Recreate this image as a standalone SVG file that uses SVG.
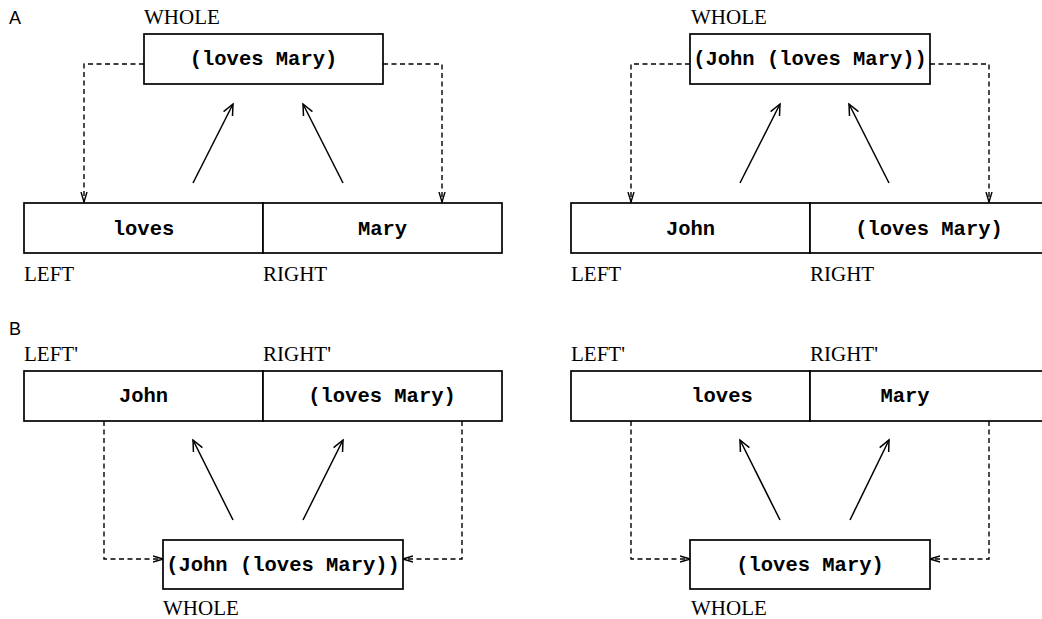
<svg xmlns="http://www.w3.org/2000/svg" width="1042" height="619" viewBox="0 0 1042 619">
<style>
.box{fill:#fff;stroke:#000;stroke-width:1.7}
.code{font-family:"Liberation Mono","Courier New",monospace;font-weight:bold;font-size:20.5px;text-anchor:middle;fill:#000}
.lbl{font-family:"Liberation Serif","Times New Roman",serif;font-size:21px;fill:#000}
.panel{font-family:"Liberation Sans",Arial,sans-serif;font-size:18px;fill:#000}
.dash{fill:none;stroke:#000;stroke-width:1.4;stroke-dasharray:5,3.5;marker-end:url(#dh)}
.solid{fill:none;stroke:#000;stroke-width:1.5;marker-end:url(#sh)}
</style>
<defs>
<marker id="sh" markerUnits="userSpaceOnUse" markerWidth="14" markerHeight="12" refX="11" refY="5" orient="auto" viewBox="0 0 14 10">
<path d="M0,0 L11,5 L0,10" fill="none" stroke="#000" stroke-width="1.5"/>
</marker>
<marker id="dh" markerUnits="userSpaceOnUse" markerWidth="12" markerHeight="10" refX="10" refY="4" orient="auto" viewBox="0 0 12 8">
<path d="M0,1 L10,4 L0,7" fill="none" stroke="#000" stroke-width="1.4"/>
</marker>
</defs>
<rect width="1042" height="619" fill="#fff"/>
<text class="panel" x="9" y="24">A</text>
<text class="panel" x="9" y="335">B</text>

<g id="connectors">
<path class="dash" d="M144,64 H84 V202"/>
<path class="dash" d="M383,64 H442 V202"/>
<path class="solid" d="M193,183 L233,104"/>
<path class="solid" d="M343,183 L303,104"/>
<path class="dash" d="M690,64 H631 V202"/>
<path class="dash" d="M930,64 H989 V202"/>
<path class="solid" d="M740,183 L780,104"/>
<path class="solid" d="M889,183 L849,104"/>
<path class="dash" d="M104,421 V559 H163"/>
<path class="dash" d="M462,421 V559 H403"/>
<path class="solid" d="M233,520 L193,440"/>
<path class="solid" d="M303,520 L343,440"/>
<path class="dash" d="M631,421 V559 H690"/>
<path class="dash" d="M989,421 V559 H930"/>
<path class="solid" d="M780,520 L740,440"/>
<path class="solid" d="M850,520 L889,440"/>
</g>

<g id="a1-whole">
<rect class="box" x="144" y="34" width="239" height="50"/>
<text class="code" x="263.5" y="65">(loves Mary)</text>
<text class="lbl" x="144" y="24">WHOLE</text>
</g>
<g id="a1-left">
<rect class="box" x="24" y="203" width="239" height="50"/>
<text class="code" x="143.5" y="235">loves</text>
<text class="lbl" x="24" y="281">LEFT</text>
</g>
<g id="a1-right">
<rect class="box" x="263" y="203" width="239" height="50"/>
<text class="code" x="382.5" y="235">Mary</text>
<text class="lbl" x="263" y="281">RIGHT</text>
</g>

<g id="a2-whole">
<rect class="box" x="690" y="34" width="240" height="50"/>
<text class="code" x="810" y="65">(John (loves Mary))</text>
<text class="lbl" x="691" y="24">WHOLE</text>
</g>
<g id="a2-left">
<rect class="box" x="571" y="203" width="239" height="50"/>
<text class="code" x="690.5" y="235">John</text>
<text class="lbl" x="571" y="281">LEFT</text>
</g>
<g id="a2-right">
<rect class="box" x="810" y="203" width="239" height="50"/>
<text class="code" x="929" y="235">(loves Mary)</text>
<text class="lbl" x="810" y="281">RIGHT</text>
</g>

<g id="b1-left">
<rect class="box" x="24" y="371" width="239" height="50"/>
<text class="code" x="143.5" y="402">John</text>
<text class="lbl" x="24" y="361">LEFT'</text>
</g>
<g id="b1-right">
<rect class="box" x="263" y="371" width="239" height="50"/>
<text class="code" x="382" y="402">(loves Mary)</text>
<text class="lbl" x="263" y="361">RIGHT'</text>
</g>
<g id="b1-whole">
<rect class="box" x="163" y="540" width="240" height="49"/>
<text class="code" x="283" y="571">(John (loves Mary))</text>
<text class="lbl" x="163" y="615">WHOLE</text>
</g>

<g id="b2-left">
<rect class="box" x="571" y="371" width="239" height="50"/>
<text class="code" x="722" y="402">loves</text>
<text class="lbl" x="571" y="361">LEFT'</text>
</g>
<g id="b2-right">
<rect class="box" x="810" y="371" width="239" height="50"/>
<text class="code" x="905" y="402">Mary</text>
<text class="lbl" x="810" y="361">RIGHT'</text>
</g>
<g id="b2-whole">
<rect class="box" x="690" y="540" width="240" height="49"/>
<text class="code" x="810" y="571">(loves Mary)</text>
<text class="lbl" x="691" y="615">WHOLE</text>
</g>
</svg>
